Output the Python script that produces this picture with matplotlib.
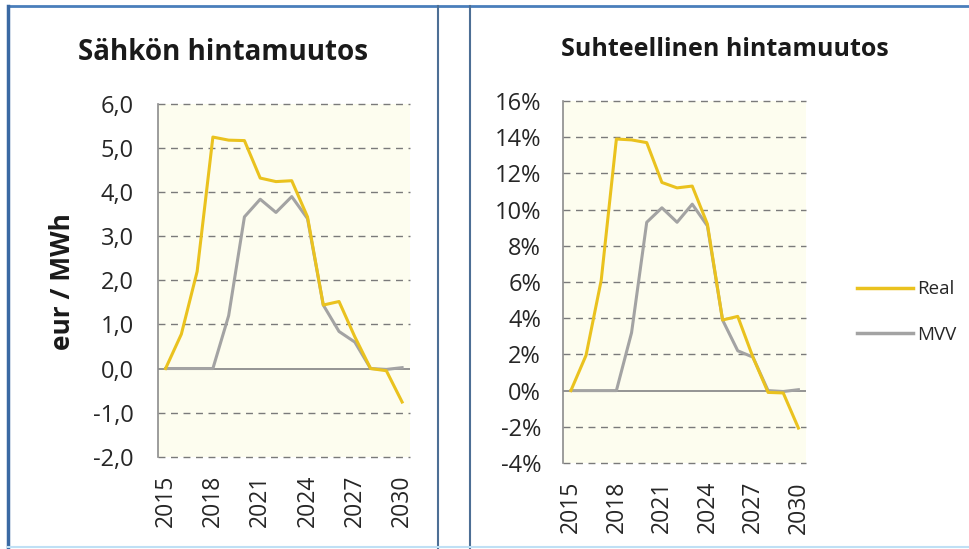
import matplotlib
matplotlib.use("Agg")
import matplotlib.pyplot as plt
from matplotlib.lines import Line2D
from matplotlib.ticker import FuncFormatter

plt.rcParams['font.family'] = ['Open Sans', 'DejaVu Sans']

years = list(range(2015, 2031))
year_ticks = [2015, 2018, 2021, 2024, 2027, 2030]

# eur / MWh
real_abs = [0.0, 0.78, 2.2, 5.25, 5.18, 5.17, 4.32, 4.24, 4.26, 3.44, 1.44, 1.52, 0.72, 0.0, -0.05, -0.76]
mvv_abs = [0.0, 0.0, 0.0, 0.0, 1.2, 3.44, 3.84, 3.54, 3.9, 3.4, 1.44, 0.84, 0.6, 0.0, -0.02, 0.02]

# percent
real_pct = [0.0, 1.95, 6.1, 13.9, 13.85, 13.7, 11.5, 11.2, 11.3, 9.2, 3.9, 4.1, 1.85, -0.1, -0.13, -2.07]
mvv_pct = [0.0, 0.0, 0.0, 0.0, 3.2, 9.3, 10.1, 9.3, 10.3, 9.1, 3.9, 2.2, 1.85, 0.0, -0.05, 0.05]

yellow = '#EAC21E'
grey = '#A3A3A3'
border = '#4A7EBB'
plot_bg = '#FDFDEF'
txt = '#262626'

fig = plt.figure(figsize=(9.7, 5.49), dpi=100)
W, H = 970, 549


def fx(px):
    return px / W


def fy(py):
    return 1 - py / H


def box(left, top, right, bottom):
    return [fx(left), fy(bottom), (right - left) / W, (bottom - top) / H]


# panel frames
for xs, ys, c, lw in [([8, 970], [6, 6], border, 2),
                      ([8, 8], [6, 549], '#3A69A3', 2.5),
                      ([438, 438], [6, 549], '#4D6F95', 1.5),
                      ([470, 470], [6, 549], '#4D6F95', 1.5),
                      ([8, 970], [547, 547], '#BFE0F5', 1.5)]:
    fig.add_artist(Line2D([fx(x) for x in xs], [fy(y) for y in ys],
                          transform=fig.transFigure, color=c, lw=lw))


def style_axes(ax, real, mvv, ylo, yhi, step, ypad):
    ax.set_facecolor(plot_bg)
    ax.plot(years, real, color=yellow, lw=2.2, zorder=4)
    ax.plot(years, mvv, color=grey, lw=2.2, zorder=3)
    ax.set_xlim(2014.5, 2030.5)
    ax.set_ylim(ylo, yhi)
    ticks = []
    v = ylo
    while v <= yhi + 1e-9:
        ticks.append(round(v, 6))
        v += step
    ax.set_yticks(ticks)
    for t in ticks:
        if abs(t) > 1e-9:
            ax.axhline(t, color='#7A7A7A', lw=1.0, ls=(0, (5, 4)), zorder=1, clip_on=False)
    ax.axhline(0, color='#8C8C8C', lw=1.3, zorder=2)
    for s in ['top', 'right', 'bottom']:
        ax.spines[s].set_visible(False)
    ax.spines['left'].set_color('#8C8C8C')
    ax.spines['left'].set_linewidth(1.2)
    ax.set_xticks(year_ticks)
    ax.set_xticklabels([str(y) for y in year_ticks], rotation=90)
    ax.tick_params(axis='x', length=0, pad=13, labelsize=16.5, labelcolor=txt)
    ax.tick_params(axis='y', length=0, pad=ypad, labelsize=17, labelcolor=txt)


ax1 = fig.add_axes(box(157.7, 104, 410, 456.7))
ax2 = fig.add_axes(box(563.3, 101, 806, 463))

style_axes(ax1, real_abs, mvv_abs, -2.0, 6.0, 1.0, 17)
style_axes(ax2, real_pct, mvv_pct, -4, 16, 2, 16)

ax1.yaxis.set_major_formatter(FuncFormatter(lambda v, p: f'{v:.1f}'.replace('.', ',')))
ax2.yaxis.set_major_formatter(FuncFormatter(lambda v, p: f'{v:.0f}%'))

fig.text(fx(223), fy(52), 'Sähkön hintamuutos', ha='center', va='center',
         fontsize=20, fontweight='bold', color='#1a1a1a')
fig.text(fx(725), fy(49), 'Suhteellinen hintamuutos', ha='center', va='center',
         fontsize=18, fontweight='bold', color='#1a1a1a')
fig.text(fx(63), fy(282), 'eur / MWh', ha='center', va='center', rotation=90,
         fontsize=19, fontweight='bold', color='#1a1a1a')

handles = [Line2D([], [], color=yellow, lw=2.5), Line2D([], [], color=grey, lw=2.5)]
fig.legend(handles, ['Real', 'MVV'], loc='center left', bbox_to_anchor=(fx(840), fy(312)),
           frameon=False, fontsize=13.5, handlelength=3.0, handletextpad=0.2,
           labelspacing=1.45, labelcolor=txt)

fig.savefig('out.png', dpi=100, facecolor='white')
